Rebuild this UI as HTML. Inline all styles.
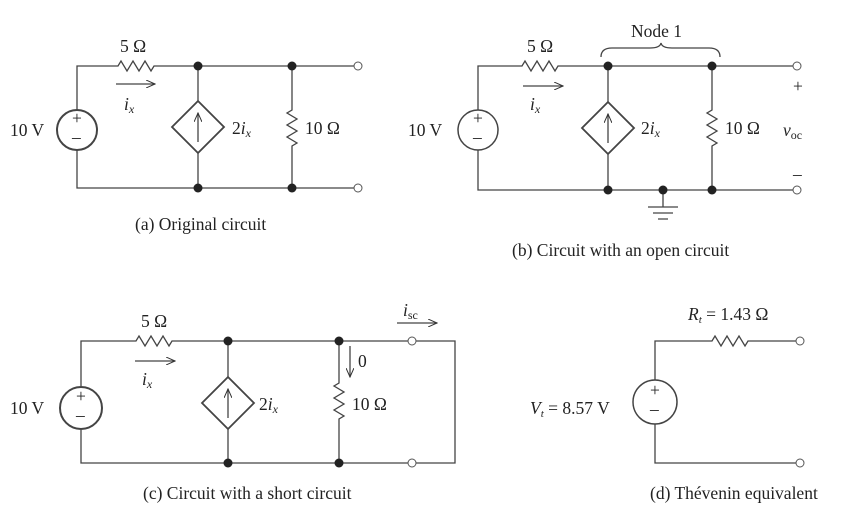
<!DOCTYPE html>
<html><head><meta charset="utf-8"><style>
html,body{margin:0;padding:0;background:#fff}
svg{display:block}
text{font-family:"Liberation Serif",serif;font-size:17.5px;fill:#222}
.it{font-style:italic}
</style></head><body>
<svg width="841" height="518" viewBox="0 0 841 518" xmlns="http://www.w3.org/2000/svg">
<defs>
<marker id="ar" markerWidth="10" markerHeight="8" refX="9" refY="4" orient="auto" markerUnits="userSpaceOnUse">
<path d="M0,0 L9,4 L0,8" fill="none" stroke="#333" stroke-width="1"/></marker>
</defs>
<g stroke="#444" stroke-width="1.3" fill="none">
<!-- (a) -->
<path d="M77,110 V66 H118 l3,-5 l6,10 l6,-10 l6,10 l6,-10 l6,10 l3,-5 H355"/>
<path d="M77,150 V188 H355"/>
<circle cx="77" cy="130" r="20" stroke-width="2"/>
<path d="M198,66 V101 M198,153 V188"/>
<path d="M198,101 L224,127 L198,153 L172,127 Z" stroke-width="1.8"/>
<path d="M198,142 V113" marker-end="url(#ar)"/>
<path d="M292,66 V110 l-5,3 l10,6 l-10,6 l10,6 l-10,6 l10,6 l-5,3 V188"/>
<path d="M116,84 H155" marker-end="url(#ar)"/>
<!-- (b) -->
<path d="M478,110 V66 H522 l3,-5 l6,10 l6,-10 l6,10 l6,-10 l6,10 l3,-5 H793"/>
<path d="M478,150 V190 H793"/>
<circle cx="478" cy="130" r="20" stroke-width="1.5"/>
<path d="M608,66 V102 M608,154 V190"/>
<path d="M608,102 L634,128 L608,154 L582,128 Z" stroke-width="1.8"/>
<path d="M608,143 V114" marker-end="url(#ar)"/>
<path d="M712,66 V110 l-5,3 l10,6 l-10,6 l10,6 l-10,6 l10,6 l-5,3 V190"/>
<path d="M523,86 H563" marker-end="url(#ar)"/>
<path d="M663,190 V207 M648,207 H678 M653,213 H673 M658,219 H668"/>
<path d="M601,57 Q601,48 612,48 H650 Q660,48 661,43 Q662,48 672,48 H709 Q720,48 720,57"/>
<!-- (c) -->
<path d="M81,386 V341 H136 l3,-5 l6,10 l6,-10 l6,10 l6,-10 l6,10 l3,-5 H408 M416,341 H455 V463 H416 M408,463 H81 V430"/>
<circle cx="81" cy="408" r="21" stroke-width="2"/>
<path d="M228,341 V377 M228,429 V463"/>
<path d="M228,377 L254,403 L228,429 L202,403 Z" stroke-width="1.8"/>
<path d="M228,418 V389" marker-end="url(#ar)"/>
<path d="M339,341 V383 l-5,3 l10,6 l-10,6 l10,6 l-10,6 l10,6 l-5,3 V463"/>
<path d="M135,361 H175" marker-end="url(#ar)"/>
<path d="M350,346 V377" marker-end="url(#ar)"/>
<path d="M397,323 H437" marker-end="url(#ar)"/>
<!-- (d) -->
<path d="M655,380 V341 H712 l3,-5 l6,10 l6,-10 l6,10 l6,-10 l6,10 l3,-5 H796"/>
<path d="M655,424 V463 H796"/>
<circle cx="655" cy="402" r="22" stroke-width="1.5"/>
</g>
<g fill="#fff" stroke="#555" stroke-width="1">
<circle cx="358" cy="66" r="4"/><circle cx="358" cy="188" r="4"/>
<circle cx="797" cy="66" r="4"/><circle cx="797" cy="190" r="4"/>
<circle cx="412" cy="341" r="4"/><circle cx="412" cy="463" r="4"/>
<circle cx="800" cy="341" r="4"/><circle cx="800" cy="463" r="4"/>
</g>
<g fill="#222">
<circle cx="198" cy="66" r="4.5"/><circle cx="292" cy="66" r="4.5"/>
<circle cx="198" cy="188" r="4.5"/><circle cx="292" cy="188" r="4.5"/>
<circle cx="608" cy="66" r="4.5"/><circle cx="712" cy="66" r="4.5"/>
<circle cx="608" cy="190" r="4.5"/><circle cx="712" cy="190" r="4.5"/><circle cx="663" cy="190" r="4.5"/>
<circle cx="228" cy="341" r="4.5"/><circle cx="339" cy="341" r="4.5"/>
<circle cx="228" cy="463" r="4.5"/><circle cx="339" cy="463" r="4.5"/>
</g>
<!-- labels (a) -->
<text x="120" y="52">5 Ω</text>
<text x="124" y="110" class="it">i<tspan font-size="12" dy="3">x</tspan></text>
<text x="10" y="136">10 V</text>
<text x="72" y="124" font-size="15">+</text><text x="72" y="143" font-size="15">–</text>
<text x="232" y="134">2<tspan class="it">i</tspan><tspan class="it" font-size="12" dy="3">x</tspan></text>
<text x="305" y="134">10 Ω</text>
<text x="135" y="230">(a) Original circuit</text>
<!-- (b) -->
<text x="527" y="52">5 Ω</text>
<text x="530" y="110" class="it">i<tspan font-size="12" dy="3">x</tspan></text>
<text x="408" y="136">10 V</text>
<text x="473" y="124" font-size="15">+</text><text x="473" y="143" font-size="15">–</text>
<text x="641" y="134">2<tspan class="it">i</tspan><tspan class="it" font-size="12" dy="3">x</tspan></text>
<text x="725" y="134">10 Ω</text>
<text x="783" y="136" class="it">v<tspan font-size="12" font-style="normal" dy="3">oc</tspan></text>
<text x="793" y="92" font-size="15">+</text><text x="793" y="180" font-size="15">–</text>
<text x="631" y="37">Node 1</text>
<text x="512" y="256">(b) Circuit with an open circuit</text>
<!-- (c) -->
<text x="141" y="327">5 Ω</text>
<text x="142" y="385" class="it">i<tspan font-size="12" dy="3">x</tspan></text>
<text x="10" y="414">10 V</text>
<text x="76" y="402" font-size="15">+</text><text x="76" y="421" font-size="15">–</text>
<text x="259" y="410">2<tspan class="it">i</tspan><tspan class="it" font-size="12" dy="3">x</tspan></text>
<text x="352" y="410">10 Ω</text>
<text x="358" y="367">0</text>
<text x="403" y="316" class="it">i<tspan font-size="12" font-style="normal" dy="3">sc</tspan></text>
<text x="143" y="499">(c) Circuit with a short circuit</text>
<!-- (d) -->
<text x="688" y="320"><tspan class="it">R</tspan><tspan class="it" font-size="11" dy="3">t</tspan><tspan dy="-3"> = 1.43 Ω</tspan></text>
<text x="530" y="414"><tspan class="it">V</tspan><tspan class="it" font-size="11" dy="3">t</tspan><tspan dy="-3"> = 8.57 V</tspan></text>
<text x="650" y="396" font-size="15">+</text><text x="650" y="415" font-size="15">–</text>
<text x="650" y="499">(d) Thévenin equivalent</text>
</svg>
</body></html>
